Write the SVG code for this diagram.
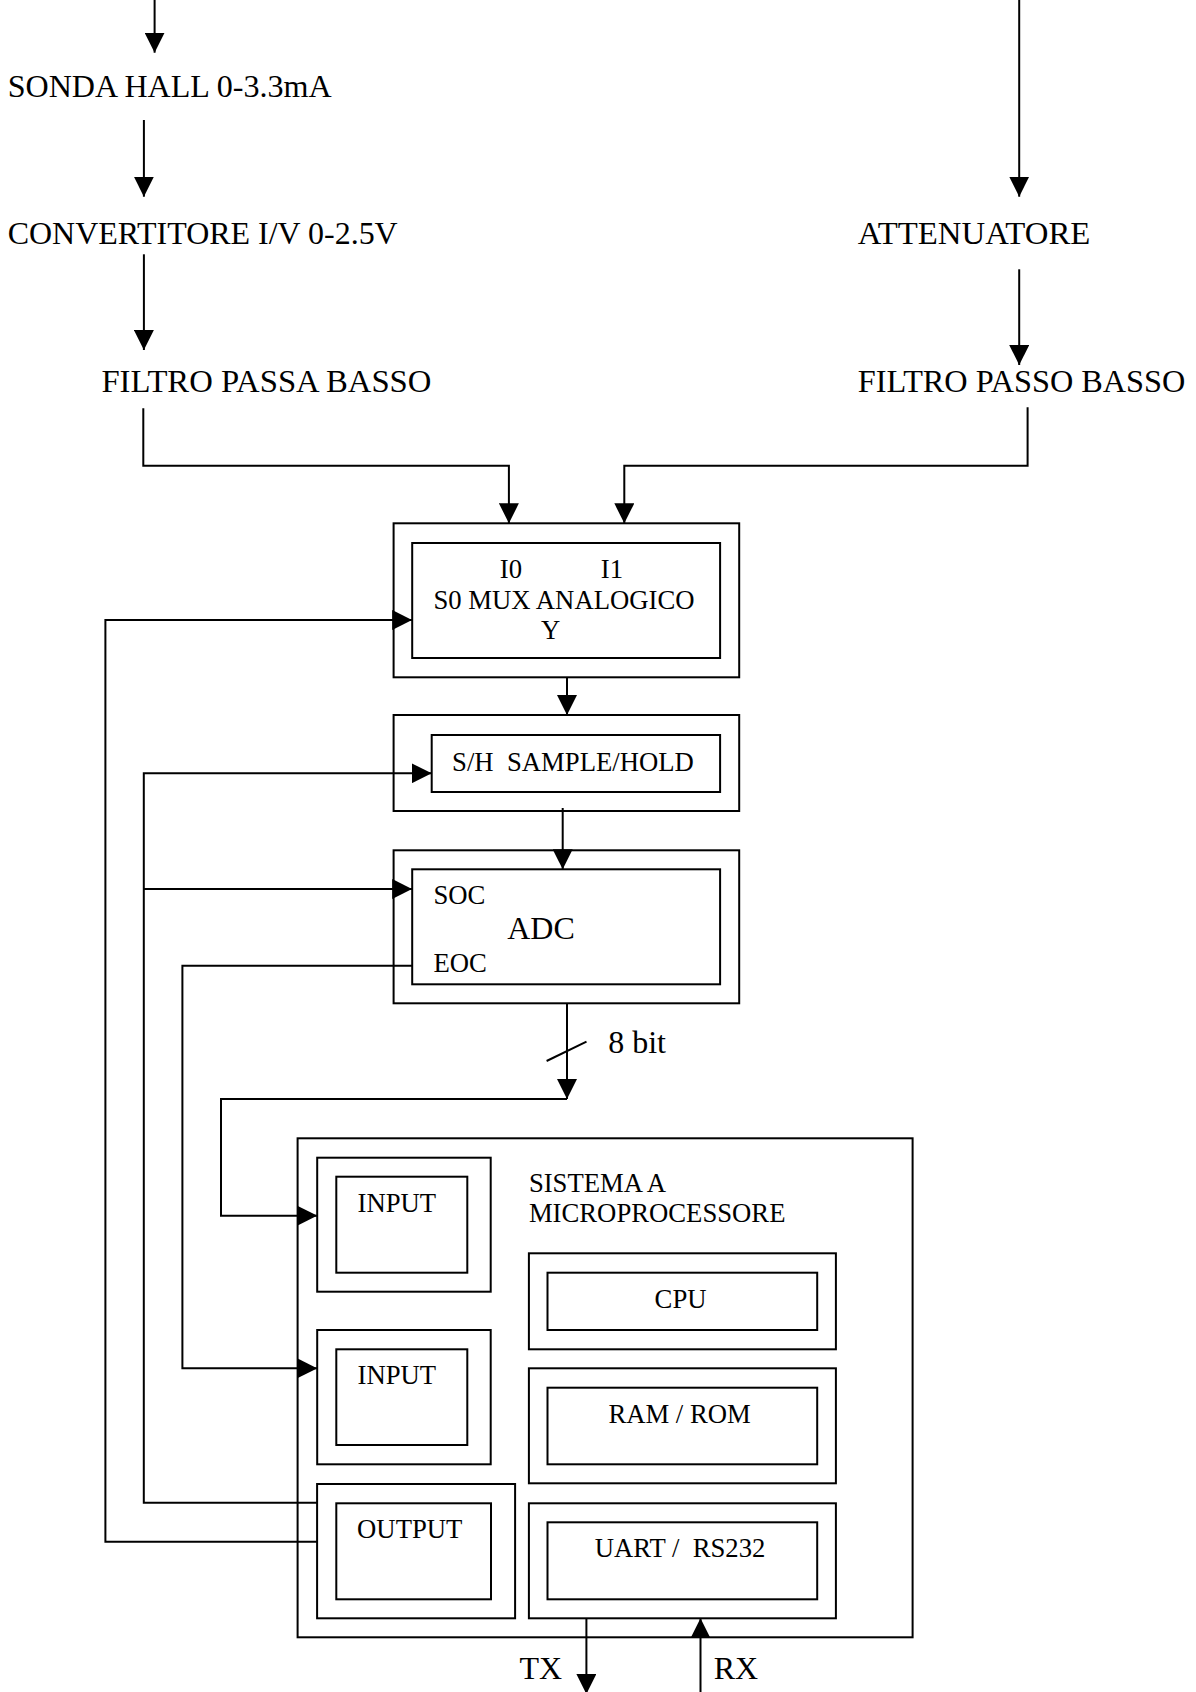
<svg xmlns="http://www.w3.org/2000/svg" width="1196" height="1692" viewBox="0 0 1196 1692">
<style>
  text { font-family: "Liberation Serif", "Times New Roman", serif; fill: #000; white-space: pre; }
  .big { font-size: 32.5px; }
  .mid { font-size: 32px; }
  .sm { font-size: 26.7px; }
  .box { fill: none; stroke: #000; stroke-width: 2; }
  .wire { fill: none; stroke: #000; stroke-width: 2; }
  .arr { marker-end: url(#ah); }
</style>
<defs>
  <marker id="ah" markerUnits="userSpaceOnUse" viewBox="0 0 20 20" markerWidth="20" markerHeight="20" refX="20" refY="10" orient="auto">
    <path d="M0,0 L20,10 L0,20 z" fill="#000"/>
  </marker>
</defs>
<rect width="1196" height="1692" fill="#fff"/>

<g id="sonda"><text class="big" x="7.7" y="97.3" textLength="324" lengthAdjust="spacingAndGlyphs">SONDA HALL 0-3.3mA</text></g>
<g id="convertitore"><text class="big" x="7.7" y="244.3" textLength="390" lengthAdjust="spacingAndGlyphs">CONVERTITORE I/V 0-2.5V</text></g>
<g id="filtro1"><text class="big" x="101.4" y="391.7" textLength="330" lengthAdjust="spacingAndGlyphs">FILTRO PASSA BASSO</text></g>
<g id="attenuatore"><text class="big" x="857.7" y="244.3" textLength="232.6" lengthAdjust="spacingAndGlyphs">ATTENUATORE</text></g>
<g id="filtro2"><text class="big" x="857.7" y="391.7" textLength="327.6" lengthAdjust="spacingAndGlyphs">FILTRO PASSO BASSO</text></g>

<g id="mux">
  <rect class="box" x="393.6" y="523.3" width="345.6" height="154"/>
  <rect class="box" x="412.2" y="543" width="307.9" height="115"/>
  <text class="sm" x="499.8" y="577.7">I0</text>
  <text class="sm" x="600.8" y="577.7">I1</text>
  <text class="sm" x="433.5" y="608.7">S0 MUX ANALOGICO</text>
  <text class="sm" x="541" y="639">Y</text>
</g>

<g id="sh">
  <rect class="box" x="393.6" y="715" width="345.6" height="96"/>
  <rect class="box" x="431.7" y="735" width="288.4" height="57"/>
  <text class="sm" x="452.1" y="770.7">S/H  SAMPLE/HOLD</text>
</g>

<g id="adc">
  <rect class="box" x="393.6" y="850.3" width="345.6" height="153"/>
  <rect class="box" x="412.2" y="869.3" width="307.9" height="115"/>
  <text class="sm" x="433.5" y="904.3">SOC</text>
  <text class="mid" x="507.2" y="939.3">ADC</text>
  <text class="sm" x="433.5" y="971.7">EOC</text>
</g>

<g id="micro">
  <rect class="box" x="297.6" y="1138.3" width="615" height="499"/>
  <text class="sm" x="528.9" y="1191.7">SISTEMA A</text>
  <text class="sm" x="528.9" y="1221.7">MICROPROCESSORE</text>
</g>

<g id="input1">
  <rect class="box" x="317.2" y="1157.7" width="173.5" height="134"/>
  <rect class="box" x="336.3" y="1176.7" width="131" height="96"/>
  <text class="sm" x="357.6" y="1211.7">INPUT</text>
</g>

<g id="input2">
  <rect class="box" x="317.2" y="1330" width="173.5" height="134.3"/>
  <rect class="box" x="336.3" y="1349.3" width="131" height="95.7"/>
  <text class="sm" x="357.6" y="1384">INPUT</text>
</g>

<g id="output">
  <rect class="box" x="317.1" y="1484" width="198" height="134.3"/>
  <rect class="box" x="336.3" y="1503.3" width="154.7" height="96"/>
  <text class="sm" x="357.1" y="1537.7">OUTPUT</text>
</g>

<g id="cpu">
  <rect class="box" x="528.9" y="1253.3" width="307" height="96"/>
  <rect class="box" x="547.5" y="1272.7" width="269.7" height="57.3"/>
  <text class="sm" x="654.6" y="1308.3">CPU</text>
</g>

<g id="ramrom">
  <rect class="box" x="528.9" y="1368.3" width="307" height="115"/>
  <rect class="box" x="547.5" y="1387.7" width="269.7" height="76.6"/>
  <text class="sm" x="608.4" y="1423.3">RAM / ROM</text>
</g>

<g id="uart">
  <rect class="box" x="528.9" y="1503.3" width="307" height="115"/>
  <rect class="box" x="547.5" y="1522.3" width="269.7" height="77"/>
  <text class="sm" x="594.7" y="1556.7">UART /  RS232</text>
</g>

<g id="connectors">
  <path class="wire arr" d="M154.6,0 V52.7"/>
  <path class="wire arr" d="M143.9,120 V196.7"/>
  <path class="wire arr" d="M143.9,254.3 V350"/>
  <path class="wire arr" d="M1019.2,0 V196.7"/>
  <path class="wire arr" d="M1019.2,269.3 V365"/>
  <path class="wire arr" d="M143.3,408.3 V465.7 H508.9 V523.3"/>
  <path class="wire arr" d="M1027.6,407.3 V465.7 H624.3 V523.3"/>
  <path class="wire arr" d="M567,677.3 V715"/>
  <path class="wire arr" d="M562.7,808 V869.3"/>
  <path class="wire arr" d="M567,1003.3 V1099"/>
  <path class="wire" d="M546.6,1061 L586.5,1041.7"/>
  <text class="mid" x="608.2" y="1053.3">8 bit</text>
  <path class="wire arr" d="M567,1099 H221 V1215.7 H317.2"/>
  <path class="wire arr" d="M317.1,1541.7 H105.4 V620 H412.2"/>
  <path class="wire arr" d="M317.1,1502.7 H143.8 V773.3 H431.7"/>
  <path class="wire arr" d="M143.8,889 H412.2"/>
  <path class="wire arr" d="M412.2,965.7 H182.4 V1368.3 H317.2"/>
  <path class="wire arr" d="M586.4,1618.3 V1694"/>
  <path class="wire arr" d="M700.5,1692 V1618.3"/>
  <text class="mid" x="519.5" y="1679.3">TX</text>
  <text class="mid" x="713.7" y="1679.3">RX</text>
</g>
</svg>
